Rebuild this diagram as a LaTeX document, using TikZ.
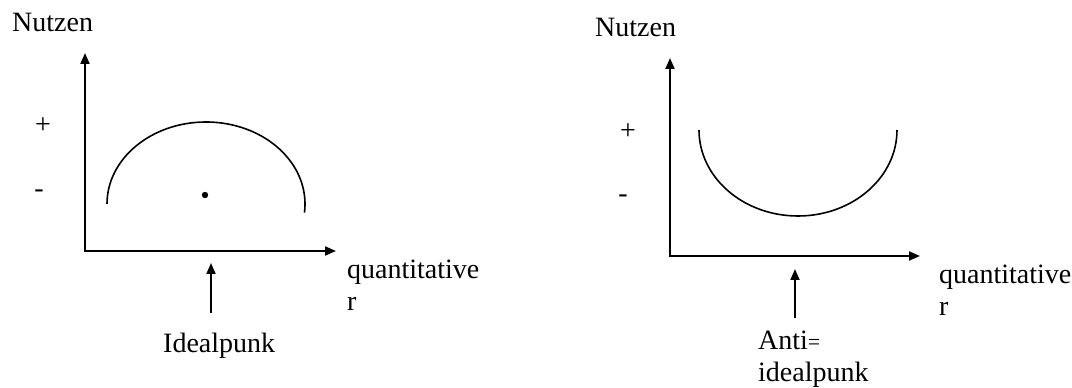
\documentclass[tikz,border=0pt]{standalone}
\usepackage{fontspec}
\setmainfont{Liberation Serif}
\usetikzlibrary{arrows.meta}

\begin{document}
\begin{tikzpicture}[x=1pt, y=1pt, >={Triangle[length=11pt, width=9pt]},
      font=\fontsize{28}{32}\selectfont,
      axis/.style={<->, line width=2pt},
      ptr/.style={->, line width=1.8pt},
      curve/.style={line width=1.6pt},
      lbl/.style={anchor=base west, inner sep=0pt, align=left}]
    \useasboundingbox (0,0) rectangle (1072,388);

    % left panel: Idealpunkt
    \coordinate (yL) at (85,335);
    \coordinate (oL) at (85,137);
    \coordinate (xL) at (336,137);
    \draw[axis] (yL) -- (oL) -- (xL);
    \draw[curve] (107,184) arc[start angle=180, end angle=-6, x radius=99, y radius=82];
    \fill (205,193) circle (3.2pt);

    \node[lbl] (nutzenL) at (12,356) {Nutzen};
    \node (plusL) at (43,262) {+};
    \node (minusL) at (39,194) {-};
    \node[lbl] (qtyL) at (347,77) {quantitative\\r};
    \node[lbl] (ideal) at (163,35) {Idealpunk};
    \coordinate (pL0) at (211,75);
    \coordinate (pL1) at (211,125);
    \draw[ptr] (pL0) -- (pL1);

    % right panel: Anti-Idealpunkt
    \coordinate (yR) at (670,330);
    \coordinate (oR) at (670,132);
    \coordinate (xR) at (920,132);
    \draw[axis] (yR) -- (oR) -- (xR);
    \draw[curve] (699,258) arc[start angle=180, end angle=360, x radius=99, y radius=86];

    \node[lbl] (nutzenR) at (595,351) {Nutzen};
    \node (plusR) at (628,256) {+};
    \node (minusR) at (623,189) {-};
    \node[lbl] (qtyR) at (939,72) {quantitative\\r};
    \node[lbl] (anti) at (758,6) {Anti{\fontsize{22}{32}\selectfont=}\\idealpunk};
    \coordinate (pR0) at (795,70);
    \coordinate (pR1) at (795,119);
    \draw[ptr] (pR0) -- (pR1);
  \end{tikzpicture}
\end{document}
